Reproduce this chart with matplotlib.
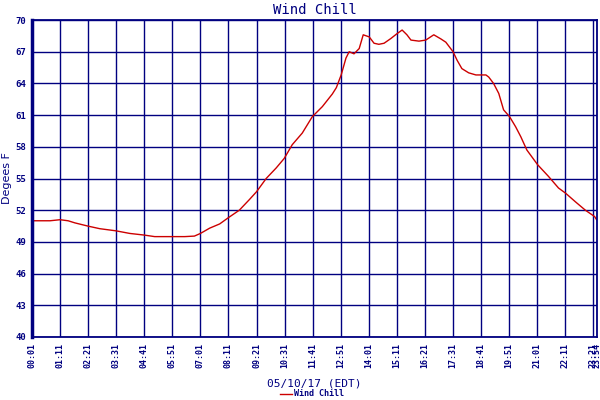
import matplotlib
matplotlib.use("Agg")
import matplotlib.pyplot as plt

# time of day in minutes (approximate sample positions) and wind chill values
minutes = [1, 21, 46, 71, 91, 108, 140, 170, 210, 245, 280, 307, 352, 382, 406, 421,
           444, 469, 491, 518, 543, 561, 585, 610, 630, 650, 675, 700, 725, 750, 760,
           772, 784, 792, 804, 817, 827, 842, 854, 866, 879, 896, 911, 924, 936, 946,
           966, 983, 1003, 1021, 1033, 1051, 1061, 1073, 1090, 1108, 1133, 1140, 1152,
           1165, 1177, 1192, 1207, 1220, 1235, 1262, 1289, 1314, 1332, 1356, 1381,
           1404, 1409]
wind_chill = [51.0, 51.0, 51.0, 51.1, 51.0, 50.8, 50.5, 50.25, 50.05, 49.8, 49.65, 49.5,
              49.5, 49.5, 49.55, 49.8, 50.3, 50.7, 51.3, 52.0, 53.0, 53.75, 55.0, 56.0,
              56.9, 58.2, 59.3, 60.85, 61.8, 63.0, 63.6, 64.8, 66.4, 67.0, 66.8, 67.3,
              68.6, 68.4, 67.8, 67.7, 67.8, 68.25, 68.7, 69.05, 68.6, 68.1, 68.0, 68.1,
              68.6, 68.2, 67.9, 67.0, 66.2, 65.4, 65.0, 64.8, 64.8, 64.6, 64.0, 63.05,
              61.5, 60.85, 59.9, 58.95, 57.7, 56.3, 55.2, 54.1, 53.6, 52.8, 52.0, 51.4,
              51.1]
tick_pos = [1 + 70 * i for i in range(21)] + [1409]
tick_labels = ["00:01", "01:11", "02:21", "03:31", "04:41", "05:51", "07:01", "08:11",
               "09:21", "10:31", "11:41", "12:51", "14:01", "15:11", "16:21", "17:31",
               "18:41", "19:51", "21:01", "22:11", "23:21", "23:54"]
y_ticks = [40, 43, 46, 49, 52, 55, 58, 61, 64, 67, 70]

navy = "#000080"
mono = "DejaVu Sans Mono"

fig = plt.figure(figsize=(6, 4), dpi=100)
ax = fig.add_axes([32 / 600, 63 / 400, 565 / 600, 317 / 400])

line, = ax.plot(minutes, wind_chill, color="#cc0000", lw=1.0, label="Wind Chill")
ax.set_xlim(1, 1410)
ax.set_ylim(40, 70)

ax.set_xticks(tick_pos)
ax.set_xticklabels(tick_labels, rotation=90, fontsize=6, family=mono,
                   fontweight="bold", color=navy)
ax.set_yticks(y_ticks)
ax.set_yticklabels([str(v) for v in y_ticks], fontsize=6.5, family=mono,
                   fontweight="bold", color=navy)
ax.tick_params(length=0, pad=4)
ax.grid(True, color=navy, lw=1.0)
for side, s in ax.spines.items():
    s.set_color(navy)
    s.set_linewidth(1.3)
ax.spines["left"].set_linewidth(2.5)

ax.set_title("Wind Chill", fontsize=10, family=mono, color=navy, pad=4)
ax.set_xlabel("05/10/17 (EDT)", fontsize=8, family=mono, color=navy, labelpad=8)
ax.set_ylabel("Degees F", fontsize=8, color=navy, labelpad=3)

fig.legend(handles=[line], loc="lower center", bbox_to_anchor=(0.52, -0.015),
           frameon=False, prop={"family": mono, "size": 6, "weight": "bold"},
           handlelength=1.4, handletextpad=0.3, labelcolor=navy)

fig.savefig("out.png", dpi=100)
